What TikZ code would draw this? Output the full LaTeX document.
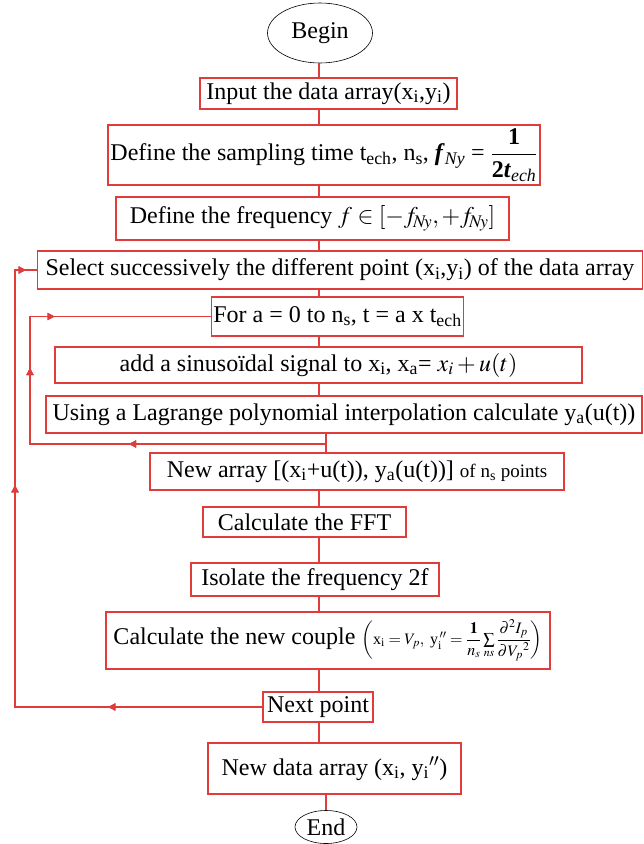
\documentclass[tikz,border=0pt]{standalone}
\usepackage{amsmath,amssymb}
\usepackage{mathptmx}
\usepackage[no-math]{fontspec}
\setmainfont{Liberation Serif}
\usepackage{xcolor}
\usepackage{tikz}
\usetikzlibrary{arrows.meta,shapes.geometric,decorations.markings}
\definecolor{flow}{HTML}{E03C3C}

\newcommand{\sub}[1]{\textsubscript{#1}}
\newcommand{\bfit}[1]{\textbf{\textit{#1}}}

\begin{document}
\begin{tikzpicture}[
  x=1pt, y=-1pt,
  font=\fontsize{24}{27}\selectfont,
  step box/.style={draw=flow,line width=1.4pt,inner sep=2pt,align=center},
  term/.style={draw=black,ellipse,line width=0.6pt,inner sep=1pt},
  link/.style={draw=flow,line width=1.3pt},
  tip/.style={decoration={markings,mark=at position #1 with {\arrow{Triangle[length=7pt,width=7pt]}}},postaction={decorate}},
]
\useasboundingbox (0,0) rectangle (644,844);

% ---- start and input
\node[term,minimum width=105pt,minimum height=60pt] (begin) at (320,33) {Begin};
\node[step box,minimum width=257pt,minimum height=31pt] (input) at (328.5,93.5)
  {Input the data array(x\sub{i},y\sub{i})};
\node[step box,minimum width=432pt,minimum height=60pt] (samp) at (324,155)
  {Define the sampling time t\sub{ech}, n\sub{s}, \bfit{f}\sub{\textit{Ny}} = $\dfrac{\textbf{1}}{\textbf{2}\bfit{t}_{\textit{ech}}}$};
\node[step box,minimum width=393pt,minimum height=43pt] (freq) at (312.5,218.5)
  {Define the frequency $f \in \left[-f_{\!N\!y},+f_{\!N\!y}\right]$};

% ---- the two loops
\node[step box,minimum width=605pt,minimum height=38pt] (select) at (340,270)
  {Select successively the different point (x\sub{i},y\sub{i}) of the data array};
\node[step box,minimum width=231pt,minimum height=39pt] (fora) at (337.5,316.5)
  {For a = 0 to n\sub{s}, t = a x t\sub{ech}};
\node[step box,minimum width=527pt,minimum height=36pt] (add) at (318.5,365)
  {add a sinuso\"{\i}dal signal to x\sub{i}, x\sub{a}= $x_i + u(t)$};
\node[step box,minimum width=596pt,minimum height=37pt] (lag) at (344,414.5)
  {Using a Lagrange polynomial interpolation calculate y\sub{a}(u(t))};

% ---- spectrum of each point
\node[step box,minimum width=414pt,minimum height=37pt] (newarr) at (357,471.5)
  {New array [(x\sub{i}+u(t)), y\sub{a}(u(t))] {\fontsize{19}{22}\selectfont of n\sub{s} points}};
\node[step box,minimum width=203pt,minimum height=30pt] (fft) at (304.5,522)
  {Calculate the FFT};
\node[step box,minimum width=248pt,minimum height=33pt] (iso) at (315,579.5)
  {Isolate the frequency 2f};
\node[step box,minimum width=444pt,minimum height=57pt] (couple) at (328,640.5)
  {Calculate the new couple {\fontsize{16}{18}\selectfont$\left(\text{x}_{\text{i}} = V_p,\ \text{y}_{\text{i}}^{\,\prime\prime} = \dfrac{\mathbf{1}}{n_s}\sum\limits_{ns}\dfrac{\partial^2 I_p\rule[-3pt]{0pt}{0pt}}{\partial {V_p}^{2}}\right)$}};
\node[step box,minimum width=110pt,minimum height=30pt] (next) at (318,707)
  {Next point};
\node[step box,minimum width=253pt,minimum height=51pt] (newdata) at (334.5,768.5)
  {New data array (x\sub{i}, y\sub{i}$''$)};
\node[term,minimum width=62pt,minimum height=33pt] (end) at (326,827) {End};

% ---- straight links down the middle
\coordinate (spine) at (319,0);
\foreach \a/\b in {begin/input,input/samp,samp/freq,freq/select,select/fora,fora/add,add/lag,fft/iso,iso/couple,couple/next,next/newdata}
  \draw[link] (\a.south -| spine) -- (\b.north -| spine);
\draw[link] (newarr.south -| spine) -- (fft.north -| spine);
\draw[link] (lag.south -| 326,0) -- (newarr.north -| 326,0);
\draw[link] (newdata.south -| 326,0) -- (end.north);

% ---- inner loop: back to "For a"
\coordinate (inner) at (326,444);
\draw[link,tip/.list={197pt,372pt,448pt}] (inner) -- (30,444) |- (fora.west);

% ---- outer loop: back to "Select"
\draw[link,tip/.list={154pt,469pt,695pt}] (next.west) -- (15,707) |- (select.west);
\end{tikzpicture}
\end{document}
